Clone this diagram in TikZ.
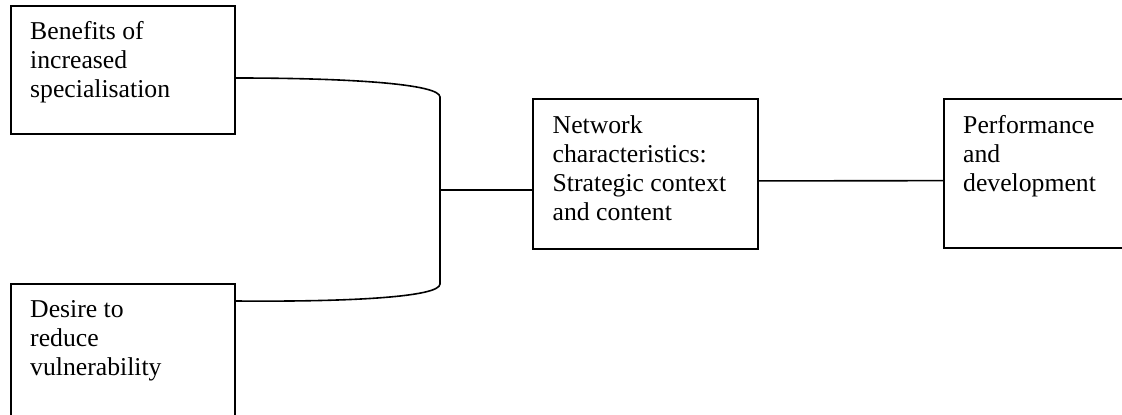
\documentclass[tikz,border=0pt]{standalone}
\usepackage{fontspec}
\setmainfont{Liberation Serif}
\begin{document}
\begin{tikzpicture}[x=1pt,y=-1pt,
  box/.style={draw,line width=2pt,inner sep=0pt,minimum width=224.5pt},
  lbl/.style={anchor=base west,inner sep=0pt,font=\fontsize{25.7pt}{29pt}\selectfont},
  conn/.style={line width=1.6pt}]
\useasboundingbox (0,0) rectangle (1122,415);
\clip (0,0) rectangle (1122,415);
% boxes
\node[box,minimum height=128.5pt] (b1) at (122.75,69.75) {};
\node[box,minimum height=140pt] (b2) at (122.75,353.7) {};
\node[box,minimum height=149.2pt,minimum width=224.7pt] (b3) at (645.35,173.9) {};
\node[box,minimum height=148.7pt] (b4) at (1056.25,173.65) {};
% texts
\node[lbl] (t1) at ([xshift=20.5pt,yshift=-35pt]b1.north west) {\parbox[t]{200pt}{\raggedright Benefits of\\increased\\specialisation}};
\node[lbl] (t2) at ([xshift=20.5pt,yshift=-35pt]b2.north west) {\parbox[t]{200pt}{\raggedright Desire to\\reduce\\vulnerability}};
\node[lbl] (t3) at ([xshift=20.5pt,yshift=-35pt]b3.north west) {\parbox[t]{210pt}{\raggedright Network\\characteristics:\\Strategic context\\and content}};
\node[lbl] (t4) at ([xshift=20pt,yshift=-35pt]b4.north west) {\parbox[t]{200pt}{\raggedright Performance\\and\\development}};
% connectors
\coordinate (s1) at ([yshift=-8.25pt]b1.east);
\coordinate (s2) at ([yshift=-18.3pt]b2.north east);
\coordinate (c1) at (440,97);
\coordinate (c2) at (440,284);
\coordinate (j) at (440,190);
\draw[conn] (s1) .. controls (350,78) and (440,84) .. (c1) -- (c2) .. controls (440,297) and (350,302) .. (s2);
\draw[conn] (j) -- (j -| b3.west);
\draw[conn] ([yshift=-7pt]b3.east) -- ([yshift=-7pt]b4.west);
\end{tikzpicture}
\end{document}
